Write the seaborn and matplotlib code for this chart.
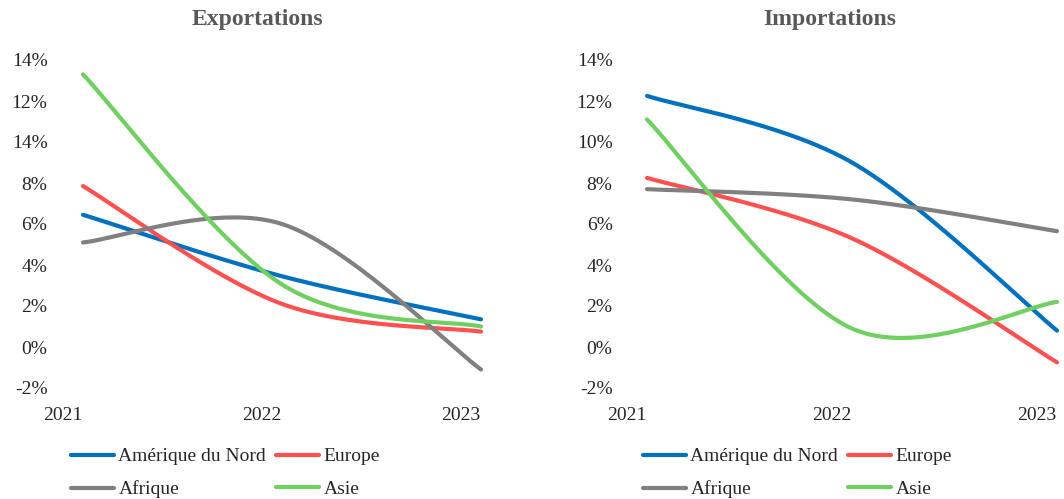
import numpy as np
import pandas as pd
import matplotlib
matplotlib.use("Agg")
import matplotlib.pyplot as plt
import seaborn as sns

sns.set_style("white")
plt.rcParams['font.family'] = ['Liberation Serif', 'DejaVu Serif']

# données (en %)
years = ["2021", "2022", "2023"]
regions = ["Amérique du Nord", "Europe", "Afrique", "Asie"]
colors = ["#0070C0", "#FF5050", "#808080", "#6FCF60"]

export_nord = [6.45, 3.45, 1.35]
export_europe = [7.85, 2.1, 0.75]
export_afrique = [5.1, 6.0, -1.1]
export_asie = [13.3, 3.05, 1.0]

import_nord = [12.25, 9.0, 0.8]
import_europe = [8.25, 5.3, -0.75]
import_afrique = [7.7, 7.2, 5.65]
import_asie = [11.1, 0.9, 2.2]

# étiquettes de l'axe y (telles quelles dans l'original)
ytick_vals = [-2, 0, 2, 4, 6, 8, 10, 12, 14]
ytick_left = ["-2%", "0%", "2%", "4%", "6%", "8%", "14%", "12%", "14%"]
ytick_right = ["-2%", "0%", "2%", "4%", "6%", "8%", "10%", "12%", "14%"]


def smooth(ys, n=80):
    """courbe lissée façon Excel (bezier, tension 1/6)"""
    xs = np.arange(len(ys), dtype=float)
    ys = np.asarray(ys, dtype=float)
    px, py = [], []
    for i in range(len(xs) - 1):
        i0, i3 = max(i - 1, 0), min(i + 2, len(xs) - 1)
        p0 = np.array([xs[i], ys[i]])
        p3 = np.array([xs[i + 1], ys[i + 1]])
        c1 = p0 + (np.array([xs[i + 1], ys[i + 1]]) - np.array([xs[i0], ys[i0]])) / 6
        c2 = p3 - (np.array([xs[i3], ys[i3]]) - np.array([xs[i], ys[i]])) / 6
        t = np.linspace(0, 1, n)[:, None]
        pts = (1 - t) ** 3 * p0 + 3 * (1 - t) ** 2 * t * c1 + 3 * (1 - t) * t ** 2 * c2 + t ** 3 * p3
        if i > 0:
            pts = pts[1:]
        px.extend(pts[:, 0])
        py.extend(pts[:, 1])
    return px, py


def make_df(series):
    rows = []
    for name, vals in zip(regions, series):
        x, y = smooth(vals)
        rows.append(pd.DataFrame({"x": x, "y": y, "region": name}))
    return pd.concat(rows, ignore_index=True)


W, H = 1064, 499
fig = plt.figure(figsize=(W / 100, H / 100), dpi=100)

# titre, séries, étiquettes y, bord gauche/droit (px), x du 1er point, px par an, x titre, x légende
panels = [
    ("Exportations", [export_nord, export_europe, export_afrique, export_asie], ytick_left,
     60, 490, 83, 199, 257, 61),
    ("Importations", [import_nord, import_europe, import_afrique, import_asie], ytick_right,
     625, 1064, 647, 205, 830, 633),
]

for title, series, ylabels, x0, x1, xd, unit, tx, lx in panels:
    y_top, y_bot = 60, 388
    ax = fig.add_axes([x0 / W, (H - y_bot) / H, (x1 - x0) / W, (y_bot - y_top) / H])
    df = make_df(series)
    sns.lineplot(data=df, x="x", y="y", hue="region", palette=colors, hue_order=regions,
                 estimator=None, sort=False, linewidth=3.0, legend=False, ax=ax)
    lines = ax.get_lines()
    for ln in lines:
        ln.set_solid_capstyle("round")
        ln.set_clip_on(False)
    ax.set_xlim(-(xd - x0) / unit, (x1 - xd) / unit)
    ax.set_ylim(-2, 14)
    ax.set_yticks(ytick_vals)
    ax.set_yticklabels(ylabels)
    ax.set_xticks(np.arange(len(years)) - 0.1)
    ax.set_xticklabels(years)
    ax.tick_params(axis="y", length=0, pad=9, labelsize=14)
    ax.tick_params(axis="x", length=0, pad=14, labelsize=14)
    ax.set_xlabel("")
    ax.set_ylabel("")
    for s in ax.spines.values():
        s.set_visible(False)

    fig.text(tx / W, 1 - 20 / H, title, ha="center", va="center", fontsize=17,
             fontweight="bold", color="#595959")

    # ordre pour remplir ligne par ligne : Nord, Europe / Afrique, Asie
    order = [0, 2, 1, 3]
    ax.legend([lines[i] for i in order], [regions[i] for i in order], ncol=2, frameon=False,
              loc="upper left", bbox_to_anchor=(lx / W, 1 - 438 / H),
              bbox_transform=fig.transFigure, borderpad=0, handlelength=2.2,
              handletextpad=0.25, columnspacing=0.5, labelspacing=0.78, fontsize=14)

fig.savefig("out.png", dpi=100)
